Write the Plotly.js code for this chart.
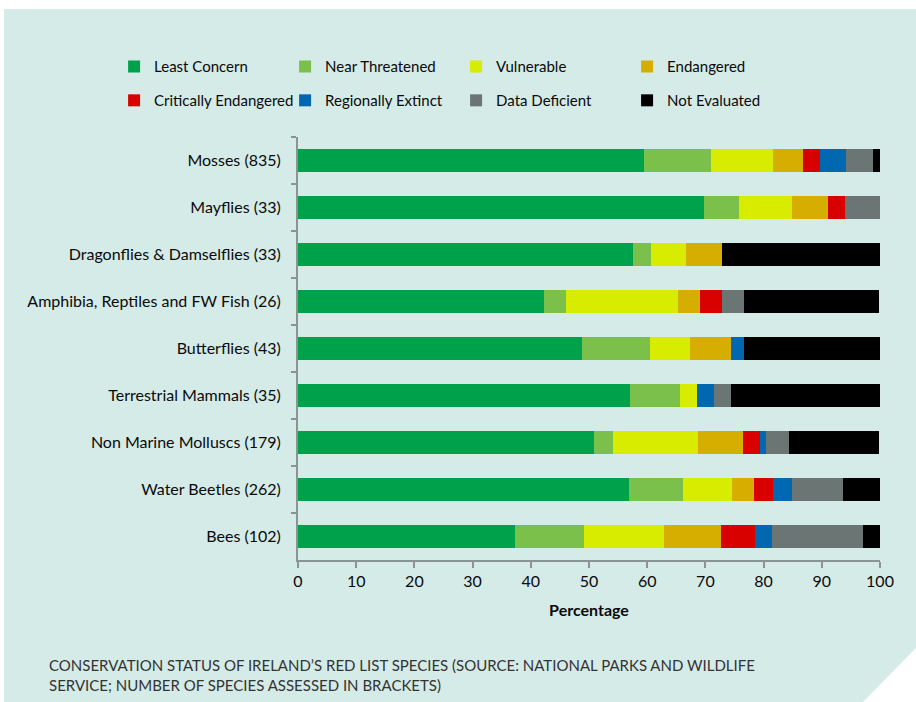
<!DOCTYPE html>
<html>
<head>
<meta charset="utf-8">
<script src="https://cdn.plot.ly/plotly-3.0.1.min.js"></script>
<style>
  html, body { margin: 0; padding: 0; background: #ffffff; }
  #wrap { position: relative; width: 916px; height: 702px; overflow: hidden; }
  #bg { position: absolute; left: 0; top: 0; width: 916px; height: 702px; background: #d5ebe8;
        clip-path: polygon(4px 9px, 916px 9px, 916px 648px, 863px 702px, 4px 702px); }
  #chart { position: absolute; left: 0; top: 0; width: 916px; height: 702px; }
</style>
</head>
<body>
<div id="wrap"><div id="bg"></div><div id="chart"></div></div>
<script>
const categories = ["Mosses (835)", "Mayflies (33)", "Dragonflies & Damselflies (33)",
  "Amphibia, Reptiles and FW Fish (26)", "Butterflies (43)", "Terrestrial Mammals (35)",
  "Non Marine Molluscs (179)", "Water Beetles (262)", "Bees (102)"];

const leastConcern         = [59.4, 69.7, 57.6, 42.3, 48.8, 57.1, 50.8, 56.9, 37.3];
const nearThreatened       = [11.5,  6.1,  3.0,  3.8, 11.6,  8.6,  3.4,  9.2, 11.8];
const vulnerable           = [10.7,  9.1,  6.1, 19.2,  7.0,  2.9, 14.5,  8.4, 13.7];
const endangered           = [ 5.1,  6.1,  6.1,  3.8,  7.0,  0.0,  7.8,  3.8,  9.8];
const criticallyEndangered = [ 3.0,  3.0,  0.0,  3.8,  0.0,  0.0,  2.8,  3.4,  5.9];
const regionallyExtinct    = [ 4.4,  0.0,  0.0,  0.0,  2.3,  2.9,  1.1,  3.1,  2.9];
const dataDeficient        = [ 4.7,  6.1,  0.0,  3.8,  0.0,  2.9,  3.9,  8.8, 15.7];
const notEvaluated         = [ 1.2,  0.0, 27.3, 23.1, 23.3, 25.7, 15.6,  6.5,  2.9];

const seriesNames = ["Least Concern", "Near Threatened", "Vulnerable", "Endangered",
  "Critically Endangered", "Regionally Extinct", "Data Deficient", "Not Evaluated"];
const seriesValues = [leastConcern, nearThreatened, vulnerable, endangered,
  criticallyEndangered, regionallyExtinct, dataDeficient, notEvaluated];
const seriesColors = ["#00a14b", "#7cc04c", "#d8ec00", "#d6ae00",
  "#d90000", "#0068b1", "#6b7573", "#000000"];

const FONT = "Lato, 'Open Sans', sans-serif";
const TXT = "#0a0a0a";

const traces = seriesNames.map((name, i) => ({
  type: "bar",
  orientation: "h",
  name: name,
  y: categories,
  x: seriesValues[i],
  marker: { color: seriesColors[i], line: { width: 0 } },
  legend: i < 4 ? "legend" : "legend2",
  hoverinfo: "x+y+name"
}));

const legendCommon = {
  orientation: "h",
  xanchor: "left",
  yanchor: "middle",
  x: -0.316,
  bgcolor: "rgba(0,0,0,0)",
  font: { family: FONT, size: 15, color: TXT },
  entrywidth: 126,
  entrywidthmode: "pixels",
  traceorder: "normal",
  itemclick: false,
  itemdoubleclick: false
};

const layout = {
  width: 916,
  height: 702,
  margin: { l: 298, r: 36, t: 137, b: 142, autoexpand: false },
  paper_bgcolor: "rgba(0,0,0,0)",
  plot_bgcolor: "rgba(0,0,0,0)",
  barmode: "stack",
  bargap: 0.53,
  font: { family: FONT, size: 16, color: TXT },
  showlegend: true,
  legend: Object.assign({}, legendCommon, { y: 1.1663 }),
  legend2: Object.assign({}, legendCommon, { y: 1.0861 }),
  xaxis: {
    range: [0, 100],
    dtick: 10,
    tick0: 0,
    showgrid: false,
    zeroline: false,
    showline: true,
    linecolor: "#8a9492",
    linewidth: 2,
    ticks: "outside",
    ticklen: 6,
    tickwidth: 2,
    tickcolor: "#8a9492",
    tickfont: { family: FONT, size: 16, color: TXT },
    title: { text: "<b>Percentage</b>", font: { family: FONT, size: 16, color: TXT }, standoff: 16 }
  },
  yaxis: {
    type: "category",
    autorange: "reversed",
    showgrid: false,
    zeroline: false,
    showline: true,
    linecolor: "#8a9492",
    linewidth: 2,
    ticks: "outside",
    tickson: "boundaries",
    ticklen: 5,
    tickwidth: 2,
    tickcolor: "#8a9492",
    ticklabelstandoff: 12,
    tickfont: { family: FONT, size: 16, color: TXT }
  },
  annotations: [{
    xref: "paper", yref: "paper",
    x: -0.4313, y: -0.2724,
    xanchor: "left", yanchor: "middle", align: "left",
    showarrow: false,
    text: "CONSERVATION STATUS OF IRELAND\u2019S RED LIST SPECIES (SOURCE: NATIONAL PARKS AND WILDLIFE<br>SERVICE; NUMBER OF SPECIES ASSESSED IN BRACKETS)",
    font: { family: FONT, size: 15, color: "#333333" }
  }]
};

Plotly.newPlot("chart", traces, layout, { displayModeBar: false });
</script>
</body>
</html>
